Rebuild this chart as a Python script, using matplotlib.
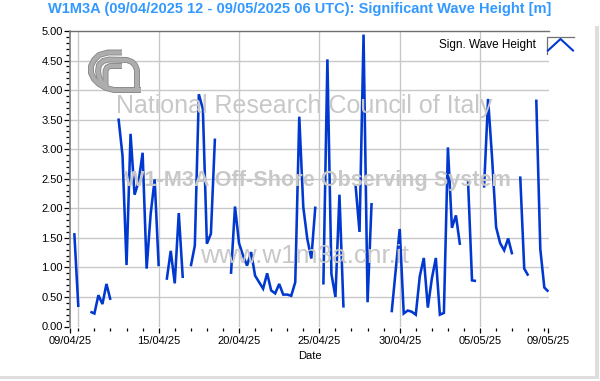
import numpy as np
import matplotlib
matplotlib.use("Agg")
import matplotlib.pyplot as plt
from matplotlib.lines import Line2D
from matplotlib.patches import Rectangle
from matplotlib.ticker import FixedLocator, MultipleLocator, FormatStrFormatter

W, H = 600, 381
plt.rcParams['font.family'] = ['Liberation Sans', 'DejaVu Sans']

TITLE = "W1M3A (09/04/2025 12 - 09/05/2025 06 UTC): Significant Wave Height [m]"
SERIES = "Sign. Wave Height"
XLABEL = "Date"
WATERMARKS = ["National Research Council of Italy", "W1-M3A Off-Shore Observing System", "www.w1m3a.cnr.it"]
n = np.nan
# six-hourly samples, starting 09/04/2025 12 UTC
hs = [n, 1.58, 0.33, n, n, 0.25, 0.22, 0.53, 0.38, 0.72,
      0.45, n, 3.52, 2.89, 1.04, 3.26, 2.23, 2.45, 2.94, 0.98,
      1.90, 2.49, 1.02, n, 0.79, 1.28, 0.73, 1.92, 0.82, n,
      1.02, 1.37, 3.93, 3.68, 1.40, 1.57, 3.18, n, n, n,
      0.89, 2.03, 1.41, 1.20, 1.03, 1.26, 0.86, 0.75, 0.64, 0.90,
      0.61, 0.56, 0.72, 0.54, 0.54, 0.52, 0.75, 3.55, 2.02, 1.48,
      1.15, 2.03, n, 0.71, 4.52, 0.89, 0.50, 2.23, 0.32, n,
      n, 2.40, 1.60, 4.94, 0.41, 2.09, n, n, n, n,
      0.24, 0.95, 1.65, 0.22, 0.27, 0.25, 0.20, 0.85, 1.16, 0.32,
      0.81, 1.16, 0.20, 0.23, 3.03, 1.67, 1.88, 1.38, n, 2.48,
      0.78, 0.77, n, 2.35, 3.85, 2.85, 1.68, 1.41, 1.29, 1.49,
      1.22, n, 2.54, 0.98, 0.86, n, 3.84, 1.31, 0.66, 0.59]
major_days = [0.5, 6.0, 11.0, 16.0, 21.0, 26.0, 30.25]
major_labels = ["09/04/25", "15/04/25", "20/04/25", "25/04/25", "30/04/25", "05/05/25", "09/05/25"]
grid_days = [1.0, 6.0, 11.0, 16.0, 21.0, 26.0]
minor_days = list(range(1, 31))
start_day = 0.5
step_day = 0.25

fig = plt.figure(figsize=(W/100, H/100), dpi=100)
L, R, T, B = 70.3, 549.3, 31.0, 326.5
ax = fig.add_axes([L/W, 1-B/H, (R-L)/W, (B-T)/H])

# window frame
fig.add_artist(Rectangle((594.5/W, 1-379/H), 4/W, (379-26)/H, transform=fig.transFigure, fc="#dedede", ec="none"))
fig.add_artist(Rectangle((0, 1-379/H), 598.5/W, 3/H, transform=fig.transFigure, fc="#dedede", ec="none"))

t = start_day + step_day*np.arange(len(hs))
ax.set_xlim(0.5, 30.31)
ax.set_ylim(0, 5)

ax.set_xticks(major_days)
ax.set_xticklabels(major_labels)
ax.xaxis.set_minor_locator(FixedLocator(minor_days))
ax.yaxis.set_major_locator(MultipleLocator(0.5))
ax.yaxis.set_minor_locator(MultipleLocator(0.1))
ax.yaxis.set_major_formatter(FormatStrFormatter('%.2f'))
ax.tick_params(axis='both', which='major', length=3.5, width=0.9, labelsize=8, color='black', pad=1)
ax.tick_params(axis='both', which='minor', length=2.2, width=0.9, color='black')
ax.tick_params(axis='x', which='major', pad=2.2)

ax.spines['bottom'].set_position(('outward', 1.3))
ax.spines['left'].set_position(('outward', 1.0))
for sp in ['right', 'bottom', 'left']:
    ax.spines[sp].set_visible(False)
ax.spines['top'].set_color('#707070')
ax.spines['top'].set_linewidth(1)
ax.axvline(0.5, color='#707070', lw=1.1, zorder=5, clip_on=False)

ax.set_axisbelow(True)
for d in grid_days:
    ax.axvline(d, color='#c8c8c8', lw=1, zorder=1)
for v in np.arange(0.5, 5, 0.5):
    ax.axhline(v, color='#c8c8c8', lw=1, zorder=1)

# watermark
fig.text(116/W, 1-113/H, WATERMARKS[0], fontsize=18, color='#c8c8c8', va='baseline', zorder=2)
fig.text(124/W, 1-186/H, WATERMARKS[1], fontsize=15.6, color='#c8c8c8', weight='bold', va='baseline', zorder=2)
fig.text(200/W, 1-263/H, WATERMARKS[2], fontsize=18.8, color='#c8c8c8', va='baseline', zorder=2)

# logo built from thick curved bands
def px(xs, ys):
    return np.array(xs)/W, 1-np.array(ys)/H
logo = [([122, 108, 99, 94, 91, 91, 94, 99, 106, 114, 141],
         [52.5, 52.5, 55, 60, 66, 73, 79, 84, 88, 90, 90]),
        ([137, 137, 135, 132, 127, 109, 103, 99, 98, 99, 102, 107],
         [90, 70, 65, 62, 60, 59.5, 61, 65, 71, 77, 83, 87]),
        ([122, 110, 107, 105.5, 105.5],
         [66, 66, 67.5, 71, 85])]
for lw, col in [(4.3, '#8a8a8a'), (3.0, '#adadad')]:
    for xs, ys in logo:
        xx, yy = px(xs, ys)
        fig.add_artist(Line2D(xx, yy, transform=fig.transFigure, color=col, lw=lw,
                              solid_capstyle='butt', solid_joinstyle='round', zorder=3))

ax.plot(t, hs, color='#0038d0', lw=1.85, solid_joinstyle='miter', solid_capstyle='butt', zorder=4, clip_on=False)

fig.text(299.5/W, 1-9.5/H, TITLE, fontsize=10.5, weight='bold', color='#3399ff', ha='center', va='center')
fig.text(310/W, 1-356/H, XLABEL, fontsize=8, ha='center', va='center')
fig.text(535.5/W, 1-45/H, SERIES, fontsize=8.45, ha='right', va='center')

# legend key
fig.add_artist(Line2D([546.5/W, 546.5/W, 574/W], [1-53.5/H, 1-36.5/H, 1-36.5/H], transform=fig.transFigure, color='#707070', lw=0.9, zorder=6))
xk, yk = px([548, 560.5, 573], [50.5, 39, 50.5])
fig.add_artist(Line2D(xk, yk, transform=fig.transFigure, color='#0038d0', lw=1.5, zorder=6))

fig.savefig("out.png", dpi=100, facecolor='white')
